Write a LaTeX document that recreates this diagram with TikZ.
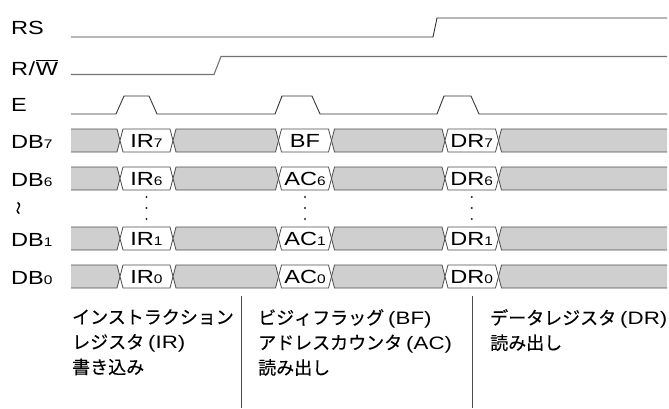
\documentclass[tikz,border=0pt]{standalone}
\usepackage{fontspec}
\setmainfont{Liberation Sans}[FakeStretch=1.24]
\newfontfamily\jpf{Noto Sans CJK JP}[FakeBold=0.3]
\newfontfamily\jpb{Noto Sans CJK JP}[FakeBold=1.2]
\newcommand\dsub[1]{{\fontsize{12.5}{12.5}\selectfont #1}}
\newcommand\latf{\fontsize{18}{25}\selectfont\rmfamily}
\begin{document}
\begin{tikzpicture}[x=1pt,y=-1pt,
  sig/.style={line width=0.9pt, draw=black!80},
  rwsig/.style={line width=1.1pt, draw=black!55},
  gband/.style={fill=black!19, draw=black!70, line width=0.8pt},
  wband/.style={fill=white, draw=black!70, line width=0.8pt},
  lbl/.style={anchor=base west, inner sep=0pt, font=\fontsize{19}{19}\selectfont},
  cell/.style={anchor=base, inner sep=0pt, font=\fontsize{19}{19}\selectfont},
  jptext/.style={anchor=north west, align=left, inner sep=0pt, font=\jpf\fontsize{18}{25}\selectfont},
  sepline/.style={draw=black!70, line width=0.8pt},
  dotm/.style={fill=black!85}]
\useasboundingbox (0,0) rectangle (669,408);

% signal names
\node[lbl] (rs) at (11,34) {RS};
\node[lbl] (rw) at (11,75) {R\kern0.5pt/\kern0.5pt$\overline{\hbox{W}}$};
\node[lbl] (e) at (11,111) {E};
\node[lbl] (db7) at (11,148) {DB\dsub{7}};
\node[lbl] (db6) at (11,186) {DB\dsub{6}};
\node[inner sep=0pt, font=\jpb\fontsize{13}{13}\selectfont] (wav) at (20,208) {\rotatebox{90}{〜}};
\node[lbl] (db1) at (11,246) {DB\dsub{1}};
\node[lbl] (db0) at (11,284) {DB\dsub{0}};

% control signals
\draw[sig] (71,37) -- (433,37) -- (437,18) -- (667,18);
\draw[rwsig] (71,74.5) -- (214,74.5) -- (221,56.5) -- (667,56.5);
\draw[sig] (71,114) -- (116,114) -- (124,96) -- (149,96) -- (157,114)
  -- (275,114) -- (282,96) -- (312,96) -- (320,114)
  -- (437,114) -- (444,96) -- (471,96) -- (479,114) -- (667,114);

% data bus rows
\foreach \m/\la/\lb/\lc/\id in {140.5/{IR\dsub{7}}/{BF}/{DR\dsub{7}}/r7,
                                178.5/{IR\dsub{6}}/{AC\dsub{6}}/{DR\dsub{6}}/r6,
                                238.5/{IR\dsub{1}}/{AC\dsub{1}}/{DR\dsub{1}}/r1,
                                276.5/{IR\dsub{0}}/{AC\dsub{0}}/{DR\dsub{0}}/r0}{
  \fill[black!19] (71,\m-11.5) -- (117,\m-11.5) -- (120,\m) -- (117,\m+11.5) -- (71,\m+11.5) -- cycle;
  \draw[gband,fill=none] (71,\m-11.5) -- (117,\m-11.5) -- (120,\m) -- (117,\m+11.5) -- (71,\m+11.5);
  \draw[wband] (123,\m-11.5) -- (170,\m-11.5) -- (173,\m) -- (170,\m+11.5) -- (123,\m+11.5) -- (120,\m) -- cycle;
  \draw[gband] (176,\m-11.5) -- (275.5,\m-11.5) -- (278.5,\m) -- (275.5,\m+11.5) -- (176,\m+11.5) -- (173,\m) -- cycle;
  \draw[wband] (281.5,\m-11.5) -- (328.5,\m-11.5) -- (331.5,\m) -- (328.5,\m+11.5) -- (281.5,\m+11.5) -- (278.5,\m) -- cycle;
  \draw[gband] (334.5,\m-11.5) -- (442,\m-11.5) -- (445,\m) -- (442,\m+11.5) -- (334.5,\m+11.5) -- (331.5,\m) -- cycle;
  \draw[wband] (448,\m-11.5) -- (495.5,\m-11.5) -- (498.5,\m) -- (495.5,\m+11.5) -- (448,\m+11.5) -- (445,\m) -- cycle;
  \fill[black!19] (498.5,\m) -- (501.5,\m-11.5) -- (667,\m-11.5) -- (667,\m+11.5) -- (501.5,\m+11.5) -- cycle;
  \draw[gband,fill=none] (667,\m-11.5) -- (501.5,\m-11.5) -- (498.5,\m) -- (501.5,\m+11.5) -- (667,\m+11.5);
  \node[cell] (ir\id) at (146.5,\m+7) {\la};
  \node[cell] (ac\id) at (305,\m+7) {\lb};
  \node[cell] (dr\id) at (471.75,\m+7) {\lc};
}

% vertical ellipses
\foreach \x in {146.5,305,471.75}{
  \foreach \y in {197,208,219}{
    \fill[dotm] (\x,\y) circle (1.2);
  }
}

% separators
\draw[sepline] (241,296) -- (241,408);
\draw[sepline] (472,296) -- (472,408);

% descriptions
\node[jptext] (t1) at (72,309) {インストラクション\\レジスタ {\latf (IR)}\\書き込み};
\node[jptext] (t2) at (258,309) {ビジィフラッグ {\latf (BF)}\\アドレスカウンタ {\latf (AC)}\\読み出し};
\node[jptext] (t3) at (490,309) {データレジスタ {\latf (DR)}\\読み出し};
\end{tikzpicture}
\end{document}
